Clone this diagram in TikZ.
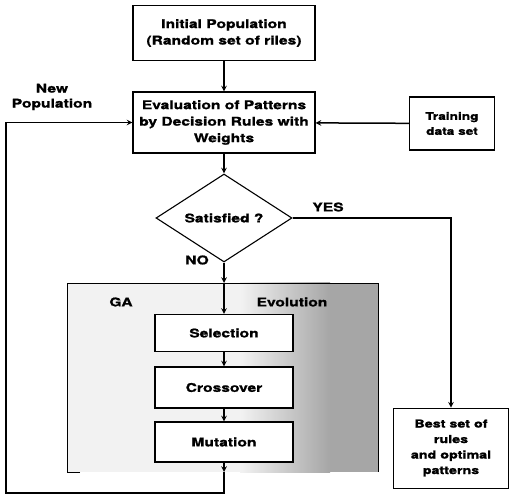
\documentclass[tikz,border=0pt]{standalone}
\usepackage{fontspec}
\newfontfamily\diagfont[FakeStretch=1.3, FakeBold=1.2]{TeX Gyre Heros}
\usepackage{tikz}
\usetikzlibrary{shapes.geometric, arrows}
\tikzstyle{arrow} = [line width=1.5pt,->,>=stealth]
\tikzstyle{block} = [draw, line width=1.1pt, fill=white, align=center, inner sep=0pt,
    font=\diagfont\bfseries\fontsize{12}{16.5}\selectfont]
\tikzstyle{decision} = [diamond, draw, line width=1.1pt, fill=white, inner sep=0pt,
    minimum width=136pt, minimum height=63pt, font=\diagfont\bfseries\fontsize{12}{16.5}\selectfont]
\tikzstyle{txt} = [align=center, inner sep=0pt, font=\diagfont\bfseries\fontsize{12}{15}\selectfont]

\begin{document}
\begin{tikzpicture}[x=1pt, y=-1pt]
            \useasboundingbox (0,0) rectangle (509,497);
            % GA region
            \coordinate (ganw) at (67,283);
            \coordinate (gase) at (378,472);
            \fill[gray!10] (ganw) rectangle (gase);
            \shade[left color=gray!10, right color=gray!70] (240,283) rectangle (330,472);
            \fill[gray!70] (330,283) rectangle (gase);
            \draw[line width=0.9pt] (80,472) -- (ganw |- gase) -- (ganw) -- (ganw -| gase) -- (gase);
            \node[txt] (ga) at (121,302) {GA};
            \node[txt] (evo) at (292,302) {Evolution};
            % boxes
            \node[block, minimum width=182pt, minimum height=55pt] (init) at (224,33)
                {Initial Population\\(Random set of riles)};
            \node[block, minimum width=182pt, minimum height=61pt] (eval) at (224,122.5)
                {Evaluation of Patterns\\by Decision Rules with\\Weights};
            \node[block, minimum width=85pt, minimum height=53pt,
                font=\diagfont\bfseries\fontsize{10.5}{15}\selectfont] (train) at (452,123.5)
                {Training\\data set};
            \node[decision] (sat) at (224,218) {Satisfied ?};
            \node[block, minimum width=138pt, minimum height=37pt] (sel) at (224,333) {Selection};
            \node[block, minimum width=138pt, minimum height=41pt] (cross) at (224,387.5) {Crossover};
            \node[block, minimum width=138pt, minimum height=40pt] (mut) at (224,442) {Mutation};
            \node[block, minimum width=115pt, minimum height=80pt, line width=0.8pt,
                font=\diagfont\bfseries\fontsize{11}{15.5}\selectfont] (best) at (451,448)
                {Best set of\\rules\\and optimal\\patterns};
            % labels
            \node[txt] (newpop) at (52,97) {New\\Population};
            \node[txt] (yes) at (328,207) {YES};
            \node[txt] (no) at (197,260) {NO};
            % connectors
            \coordinate (gatop) at (sat.south |- ganw);
            \coordinate (gabot) at (mut.south |- gase);
            \coordinate (loopr) at (224,493);
            \coordinate (loopl) at (6,493);
            \draw[arrow] (init) -- (eval);
            \draw[arrow] (train) -- (eval);
            \draw[arrow] (eval) -- (sat);
            \draw[arrow] (sat.east) -| (best.north);
            \draw[arrow] (sat.south) -- (gatop);
            \draw[arrow] (gatop) -- (sel);
            \draw[arrow] (sel) -- (cross);
            \draw[arrow] (cross) -- (mut);
            \draw[arrow] (mut) -- (gabot);
            \draw[arrow] (gabot) -- (loopr) -- (loopl) |- (eval.west);
        \end{tikzpicture}
\end{document}
